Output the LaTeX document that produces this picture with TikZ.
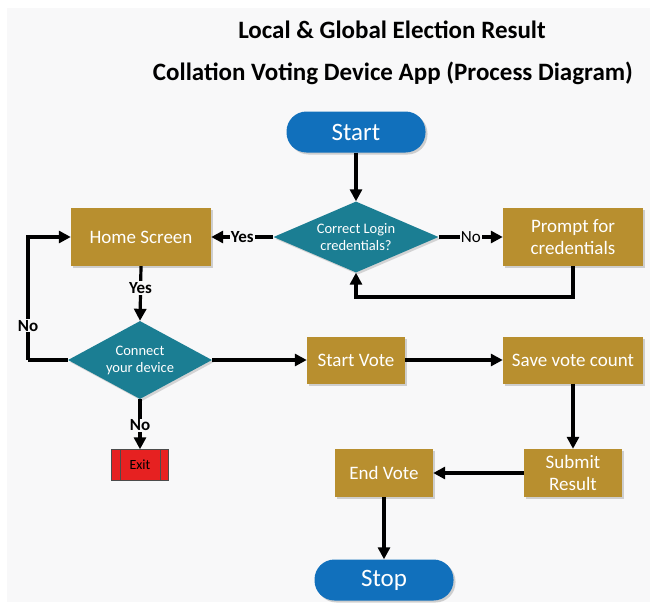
\documentclass[tikz,border=0pt]{standalone}
\usepackage{fontspec}
\setmainfont{Carlito}
\usepackage{tikz}
\usetikzlibrary{arrows.meta,shapes.geometric,shadows}

\definecolor{bgcol}{HTML}{F8F8F9}
\definecolor{goldbox}{HTML}{B88F2F}
\definecolor{tealbox}{HTML}{1B7E93}
\definecolor{bluepill}{HTML}{1170BC}
\definecolor{exitred}{HTML}{E62121}

\tikzset{
	procbox/.style={rectangle, fill=goldbox, text=white, align=center, font=\fontsize{19}{22}\selectfont,
		drop shadow={opacity=0.35, shadow xshift=2pt, shadow yshift=-2pt}},
	decbox/.style={diamond, fill=tealbox, text=white, align=center, font=\fontsize{14.5}{17}\selectfont, aspect=2.1, inner sep=0pt,
		drop shadow={opacity=0.3, shadow xshift=2pt, shadow yshift=-2pt}},
	termbox/.style={rectangle, rounded corners=20pt, fill=bluepill, text=white, minimum width=139pt, minimum height=41pt,
		font=\fontsize{25}{28}\selectfont, drop shadow={opacity=0.35, shadow xshift=2pt, shadow yshift=-2pt}},
	flow/.style={line width=3.2pt, -{Triangle[length=12pt,width=12pt]}},
	plain/.style={line width=3.2pt},
	lbl/.style={fill=bgcol, inner sep=1pt, font=\fontsize{17}{19}\selectfont\bfseries},
}

\begin{document}
\begin{tikzpicture}[x=1pt, y=-1pt]
	\useasboundingbox (0,0) rectangle (654,608);
	\fill[white] (0,0) rectangle (654,608);
	\fill[bgcol] (7,8) rectangle (650,602);

	\node[font=\fontsize{25}{28}\selectfont\bfseries] (title1) at (392,30) {Local \& Global Election Result};
	\node[font=\fontsize{25}{28}\selectfont\bfseries] (title2) at (393,73) {Collation Voting Device App (Process Diagram)};

	\node[termbox] (start) at (356,132) {Start};
	\node[decbox, minimum width=165pt, minimum height=71pt] (login) at (356,237) {Correct Login\\credentials?};
	\node[procbox, minimum width=140pt, minimum height=58pt] (prompt) at (573,237) {Prompt for\\credentials};
	\node[procbox, minimum width=140pt, minimum height=58pt] (home) at (141,237) {Home Screen};
	\node[decbox, minimum width=144pt, minimum height=78pt] (device) at (140,360) {Connect\\your device};
	\node[rectangle, draw=black!70, fill=exitred, minimum width=57pt, minimum height=31pt,
		font=\fontsize{14}{16}\selectfont] (exit) at (140,465) {Exit};
	\draw[black!70] ([xshift=9pt]exit.north west) -- ([xshift=9pt]exit.south west);
	\draw[black!70] ([xshift=-9pt]exit.north east) -- ([xshift=-9pt]exit.south east);
	\node[procbox, minimum width=98pt, minimum height=47pt] (startvote) at (356,360) {Start Vote};
	\node[procbox, minimum width=140pt, minimum height=47pt] (save) at (573,360) {Save vote count};
	\node[procbox, minimum width=98pt, minimum height=48pt] (submit) at (573,473) {Submit\\Result};
	\node[procbox, minimum width=98pt, minimum height=48pt] (endvote) at (384,473) {End Vote};
	\node[termbox] (stop) at (384,580) {Stop};

	\coordinate (loopr) at (573,297);
	\coordinate (loopl) at (356,297);
	\coordinate (nobot) at (28,360);
	\coordinate (notop) at (28,237);

	\draw[flow] (start) -- (login);
	\draw[flow] (login.east) -- node[lbl, font=\fontsize{17}{19}\selectfont] {No} (prompt.west);
	\draw[flow] (prompt.south) -- (loopr) -- (loopl) -- (login.south);
	\draw[flow] (login.west) -- node[lbl] {Yes} (home.east);
	\draw[flow] (home.south) -- node[lbl, pos=0.4] {Yes} (device.north);
	\draw[plain] (device.west) -- (nobot);
	\draw[flow] (nobot) -- node[lbl, pos=0.28] {No} (notop) -- (home.west);
	\draw[flow] (device.south) -- node[lbl, pos=0.52] {No} (exit.north);
	\draw[flow] (device.east) -- (startvote.west);
	\draw[flow] (startvote) -- (save);
	\draw[flow] (save) -- (submit);
	\draw[flow] (submit) -- (endvote);
	\draw[flow] (endvote) -- (stop);
\end{tikzpicture}
\end{document}
